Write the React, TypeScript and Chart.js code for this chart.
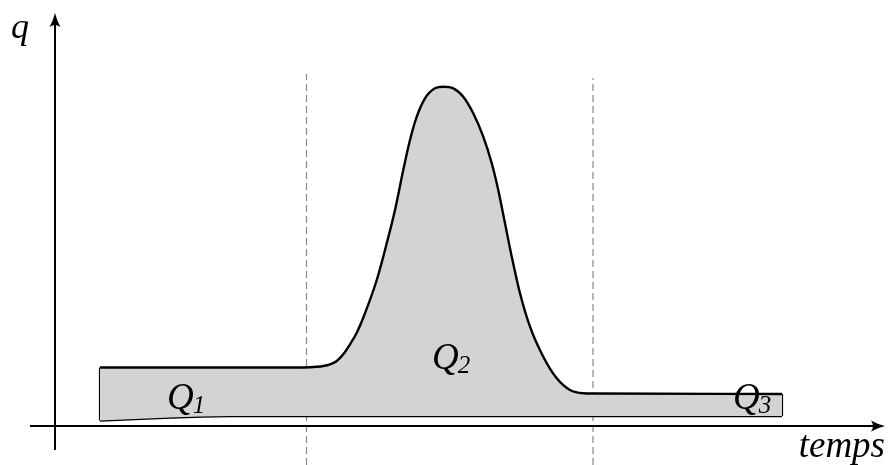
import React, { useEffect, useRef } from "react";
import { Chart, registerables } from "chart.js";

Chart.register(...registerables);

// Upper boundary of the shaded area (time t, flow q)
const upperT = [1.8, 9.6, 10.2, 10.47, 10.73, 11.0, 11.27, 11.53, 11.8, 12.07, 12.33, 12.87, 13.27, 13.6, 13.93, 14.2, 14.47, 14.8, 15.2, 15.53, 15.93, 16.33, 16.73, 17.13, 17.47, 17.73, 18.0, 18.27, 18.6, 19.0, 19.53, 20.07, 20.6, 21.13, 21.52, 29.08];
const upperQ = [5.85, 5.85, 5.88, 5.92, 6.0, 6.17, 6.5, 7.17, 8.17, 9.33, 10.83, 14.6, 18.27, 21.6, 25.6, 28.6, 30.93, 32.77, 33.77, 33.93, 33.77, 32.93, 31.27, 28.93, 26.27, 23.6, 20.27, 16.93, 13.27, 9.93, 6.93, 4.77, 3.6, 3.27, 3.25, 3.2];
// Lower boundary of the shaded area
const lowerT = [1.8, 4.6, 7.0, 29.08];
const lowerQ = [0.55, 0.85, 1.0, 1.0];
// Vertical dashed separators
const sepT = [10.06, 21.52];
const sepTop = [35.2, 34.8];
// Region labels
const labelText = ["Q", "Q", "Q"];
const labelSub = ["1", "2", "3"];
const labelT = [4.48, 15.08, 27.12];
const labelQ = [1.7, 5.7, 1.7];
// Axis titles
const yTitle = "q";
const xTitle = "temps";

const X_MIN = -2.2;
const X_MAX = 33.32;
const Y_MIN = -3.9;
const Y_MAX = 42.6;

const zip = (a: number[], b: number[]) => a.map((v, i) => ({ x: v, y: b[i] }));

const decorPlugin = {
  id: "decor",
  afterDatasetsDraw(chart: any) {
    const ctx = chart.ctx;
    const xs = chart.scales.x;
    const ys = chart.scales.y;
    const px = (v: number) => xs.getPixelForValue(v);
    const py = (v: number) => ys.getPixelForValue(v);
    ctx.save();
    ctx.strokeStyle = "#000";
    ctx.fillStyle = "#000";
    ctx.lineWidth = 2;
    // x axis
    const x0 = px(-1), x1 = px(33.2), yA = py(0);
    ctx.beginPath();
    ctx.moveTo(x0, yA);
    ctx.lineTo(x1 - 8, yA);
    ctx.stroke();
    ctx.beginPath();
    ctx.moveTo(x1, yA);
    ctx.quadraticCurveTo(x1 - 8, yA - 2, x1 - 14, yA - 5.5);
    ctx.quadraticCurveTo(x1 - 10, yA, x1 - 14, yA + 5.5);
    ctx.quadraticCurveTo(x1 - 8, yA + 2, x1, yA);
    ctx.closePath();
    ctx.fill();
    // y axis
    const xA = px(0), yb = py(-2.4), yt = py(41.3);
    ctx.beginPath();
    ctx.moveTo(xA, yb);
    ctx.lineTo(xA, yt + 8);
    ctx.stroke();
    ctx.beginPath();
    ctx.moveTo(xA, yt);
    ctx.quadraticCurveTo(xA - 2, yt + 8, xA - 5.5, yt + 14);
    ctx.quadraticCurveTo(xA, yt + 10, xA + 5.5, yt + 14);
    ctx.quadraticCurveTo(xA + 2, yt + 8, xA, yt);
    ctx.closePath();
    ctx.fill();

    // labels
    ctx.textBaseline = "alphabetic";
    ctx.textAlign = "left";
    for (let i = 0; i < labelText.length; i++) {
      const lx = px(labelT[i]);
      const ly = py(labelQ[i]);
      ctx.font = "italic 37px 'Liberation Serif'";
      ctx.fillText(labelText[i], lx, ly);
      const w = ctx.measureText(labelText[i]).width;
      ctx.font = "italic 25px 'Liberation Serif'";
      ctx.fillText(labelSub[i], lx + w - 1, ly + 4);
    }
    ctx.font = "italic 36px 'Liberation Serif'";
    ctx.fillText(yTitle, px(-1.76), py(38.8));
    ctx.font = "italic 37px 'Liberation Serif'";
    ctx.textAlign = "right";
    ctx.fillText(xTitle, px(33.2), py(-3.1));
    ctx.restore();
  },
};

export default function App() {
  const ref = useRef<HTMLCanvasElement>(null);
  useEffect(() => {
    document.body.style.margin = "0";
    const datasets: any[] = [
      {
        data: zip(upperT, upperQ),
        borderColor: "#000",
        borderWidth: 2.4,
        backgroundColor: "#d4d2d4",
        fill: "+1",
        cubicInterpolationMode: "monotone",
        pointRadius: 0,
      },
      {
        data: zip(lowerT, lowerQ),
        borderColor: "#000",
        borderWidth: 2.4,
        fill: false,
        cubicInterpolationMode: "monotone",
        pointRadius: 0,
      },
      {
        data: [
          { x: upperT[0], y: lowerQ[0] },
          { x: upperT[0], y: upperQ[0] },
        ],
        borderColor: "#000",
        borderWidth: 2.2,
        fill: false,
        pointRadius: 0,
      },
      {
        data: [
          { x: upperT[upperT.length - 1], y: lowerQ[lowerQ.length - 1] },
          { x: upperT[upperT.length - 1], y: upperQ[upperQ.length - 1] },
        ],
        borderColor: "#000",
        borderWidth: 2.2,
        fill: false,
        pointRadius: 0,
      },
      ...sepT.map((t, i) => ({
        data: [
          { x: t, y: Y_MIN },
          { x: t, y: sepTop[i] },
        ],
        borderColor: "#888888",
        borderWidth: 1.2,
        borderDash: [7, 4],
        fill: false,
        pointRadius: 0,
        order: 10,
      })),
    ];
    const chart = new Chart(ref.current!, {
      type: "scatter",
      data: { datasets },
      options: {
        animation: false,
        responsive: false,
        devicePixelRatio: 1,
        showLine: true,
        layout: { padding: 0 },
        plugins: { legend: { display: false }, tooltip: { enabled: false } },
        scales: {
          x: { type: "linear", min: X_MIN, max: X_MAX, display: false },
          y: { type: "linear", min: Y_MIN, max: Y_MAX, display: false },
        },
      } as any,
      plugins: [decorPlugin],
    });
    return () => chart.destroy();
  }, []);
  return (
    <div style={{ position: "fixed", left: 0, top: 0, width: 888, height: 465, background: "#fff" }}>
      <canvas ref={ref} width={888} height={465} />
    </div>
  );
}
